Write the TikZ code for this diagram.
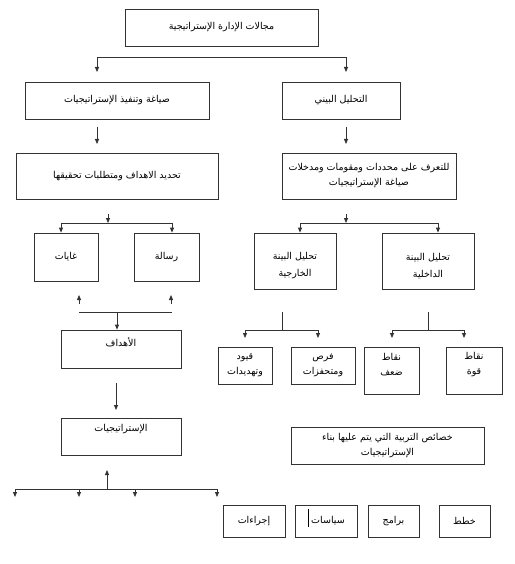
\documentclass[tikz,border=0pt]{standalone}
\usepackage{fontspec}
\usetikzlibrary{arrows.meta}
\TeXXeTstate=1
\newfontfamily\arabicfont[Script=Arabic]{DejaVu Sans}
\newcommand{\rtltext}[1]{\beginR #1\endR}
\tikzset{
  box/.style={draw=black!80, line width=0.8pt, minimum width=#1, inner sep=0pt, font=\arabicfont\fontsize{9.5}{15}\selectfont, align=center},
  lbl/.style={inner sep=0pt, font=\arabicfont\fontsize{9.5}{15}\selectfont, align=center},
  ln/.style={draw=black!80, line width=0.8pt},
  arr/.style={ln, -{Triangle[length=5pt,width=4pt]}}
}
\begin{document}
\begin{tikzpicture}[x=1pt,y=-1pt]
\useasboundingbox (0,0) rectangle (514,564);
\fill[white] (0,0) rectangle (514,564);
% boxes
\node[box=193pt, minimum height=37pt] (top) at (221.5,27.5) {\rtltext{مجالات الإدارة الإستراتيجية}};
\node[box=184pt, minimum height=37pt] (L1) at (117,100.5) {\rtltext{صياغة وتنفيذ الإستراتيجيات}};
\node[box=118pt, minimum height=37pt] (R1) at (341,100.5) {\rtltext{التحليل البيني}};
\node[box=202pt, minimum height=46pt] (L2) at (117,176) {\rtltext{تحديد الاهداف ومتطلبات تحقيقها}};
\node[box=174pt, minimum height=46pt] (R2) at (369,176) {\rtltext{للتعرف على محددات ومقومات ومدخلات}\\\rtltext{صياغة الإستراتيجيات}};
\node[box=64pt, minimum height=48pt] (ghayat) at (66,257) {\rtltext{غايات}};
\node[box=65pt, minimum height=48pt] (risala) at (166.5,257) {\rtltext{رسالة}};
\node[box=82pt, minimum height=56pt] (khariji) at (295,261) {};
\node[lbl, font=\arabicfont\fontsize{9.5}{17}\selectfont] (kharijit) at (295,266) {\rtltext{تحليل البينة}\\\rtltext{الخارجية}};
\node[box=92pt, minimum height=56pt] (dakhili) at (428,261) {};
\node[lbl, font=\arabicfont\fontsize{9.5}{17}\selectfont] (dakhilit) at (428,266) {\rtltext{تحليل البينة}\\\rtltext{الداخلية}};
\node[box=120pt, minimum height=38pt] (ahdaf) at (121,349) {};
\node[lbl] (ahdaft) at (121,342) {\rtltext{الأهداف}};
\node[box=120pt, minimum height=37pt] (strat) at (121,436.5) {};
\node[lbl] (stratt) at (121,429) {\rtltext{الإستراتيجيات}};
\node[box=54pt, minimum height=37pt] (quyud) at (245,365.5) {\rtltext{قيود}\\\rtltext{وتهديدات}};
\node[box=64pt, minimum height=37pt] (furas) at (323,365.5) {\rtltext{فرص}\\\rtltext{ومتحفزات}};
\node[box=55pt, minimum height=47pt] (daf) at (391.5,370.5) {};
\node[lbl] (daft) at (391.5,365) {\rtltext{نقاط}\\\rtltext{ضعف}};
\node[box=56pt, minimum height=47pt] (quwwa) at (474,370.5) {};
\node[lbl] (quwwat) at (474,365) {\rtltext{نقاط}\\\rtltext{قوة}};
\node[box=193pt, minimum height=37pt] (khasais) at (387.5,445.5) {\rtltext{خصائص التربية التي يتم عليها بناء}\\\rtltext{الإستراتيجيات}};
\node[box=62pt, minimum height=32pt] (ijraat) at (254,521) {\rtltext{إجراءات}};
\node[box=62pt, minimum height=32pt] (siyasat) at (326,521) {};
\node[lbl] (siyasatt) at (328,521) {\rtltext{سياسات}};
\node[box=51pt, minimum height=32pt] (baramij) at (393.5,521) {\rtltext{برامج}};
\node[box=51pt, minimum height=32pt] (khutat) at (464.5,521) {\rtltext{خطط}};
\draw[line width=0.6pt] (308,509) -- (308,527);
% connectors
\coordinate (a1) at (97,57); \coordinate (a2) at (346,57);
\draw[ln] (a1) -- (a2);
\draw[arr] (a1) -- (97,72);
\draw[arr] (a2) -- (346,72);
\draw[arr] (97,127) -- (97,144);
\draw[arr] (346,127) -- (346,144);
% L2 split
\draw[arr] (108,214) -- (108,223);
\coordinate (b1) at (61,223); \coordinate (b2) at (172,223);
\draw[ln] (b1) -- (b2);
\draw[arr] (b1) -- (b1 |- ghayat.north);
\draw[arr] (b2) -- (b2 |- risala.north);
% R2 split
\draw[arr] (346,214) -- (346,223);
\coordinate (c1) at (300,223); \coordinate (c2) at (438,223);
\draw[ln] (c1) -- (c2);
\draw[arr] (c1) -- (c1 |- khariji.north);
\draw[arr] (c2) -- (c2 |- dakhili.north);
% up arrows to ahdaf
\draw[arr] (79,304) -- (79,295);
\draw[arr] (171,304) -- (171,295);
\coordinate (d1) at (79,312); \coordinate (d2) at (172,312); \coordinate (d3) at (117,312);
\draw[ln] (d1) -- (d2);
\draw[arr] (d3) -- (d3 |- ahdaf.north);
\draw[arr] (116,383) -- (116,410);
% khariji split
\draw[ln] (282,312) -- (282,330);
\coordinate (e1) at (245,330); \coordinate (e2) at (318,330);
\draw[ln] (e1) -- (e2);
\draw[arr] (e1) -- (245,338);
\draw[arr] (e2) -- (318,338);
% dakhili split
\draw[ln] (428,312) -- (428,330);
\coordinate (f1) at (392,330); \coordinate (f2) at (464,330);
\draw[ln] (f1) -- (f2);
\draw[arr] (f1) -- (392,338);
\draw[arr] (f2) -- (464,338);
% bottom
\draw[arr] (107,489) -- (107,470);
\coordinate (g1) at (15,489); \coordinate (g2) at (217,489);
\draw[ln] (g1) -- (g2);
\draw[arr] (g1) -- (15,497);
\draw[arr] (79,489) -- (79,497);
\draw[arr] (135,489) -- (135,497);
\draw[arr] (g2) -- (217,497);
\end{tikzpicture}
\end{document}
